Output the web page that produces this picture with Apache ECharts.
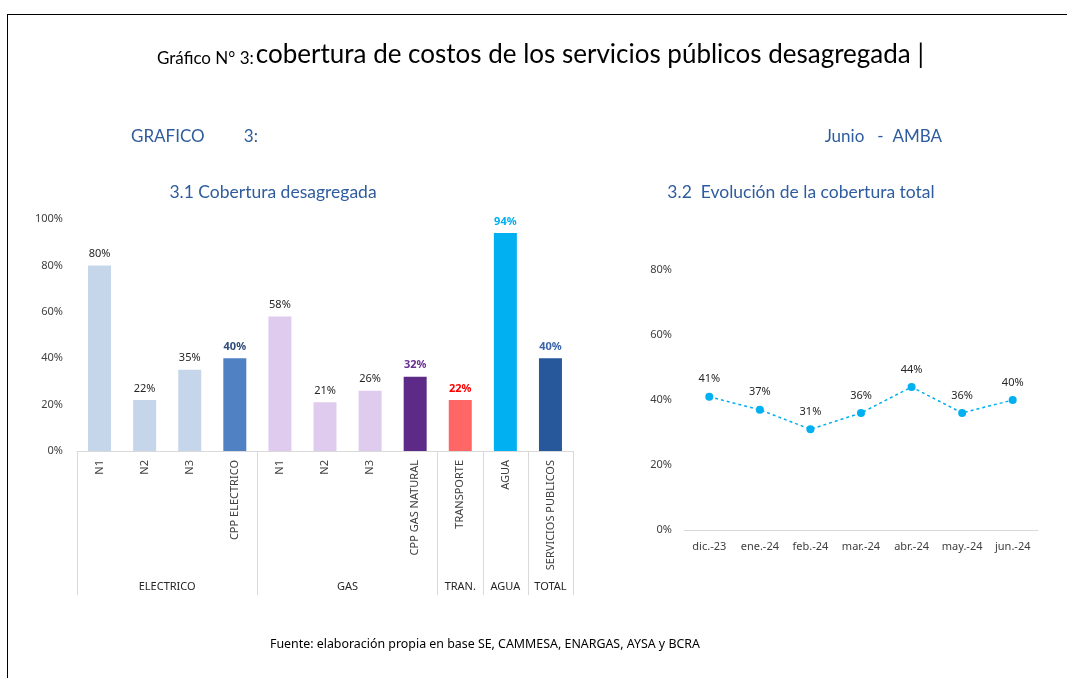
<!DOCTYPE html>
<html>
<head>
<meta charset="utf-8">
<script src="https://cdn.jsdelivr.net/npm/echarts@6/dist/echarts.min.js"></script>
<style>
html,body{margin:0;padding:0;background:#fff;}
#c{width:1067px;height:678px;}
</style>
</head>
<body>
<div id="c"></div>
<script>
// ---- Data ----
const barCategories = ['N1','N2','N3','CPP ELECTRICO','N1','N2','N3','CPP GAS NATURAL','TRANSPORTE','AGUA','SERVICIOS PUBLICOS'];
const barValues = [80, 22, 35, 40, 58, 21, 26, 32, 22, 94, 40];
const groupNames = ['ELECTRICO','GAS','TRAN.','AGUA','TOTAL'];
const groupSizes = [4, 4, 1, 1, 1];
const lineCategories = ['dic.-23','ene.-24','feb.-24','mar.-24','abr.-24','may.-24','jun.-24'];
const lineValues = [41, 37, 31, 36, 44, 36, 40];
const barTicks = [0, 20, 40, 60, 80, 100];
const lineTicks = [0, 20, 40, 60, 80];

// ---- Styles ----
const barColors = ['#C5D6EB','#C5D6EB','#C5D6EB','#4F81C3','#DFCBEE','#DFCBEE','#DFCBEE','#5E2A87','#FF6666','#00B0F0','#27589C'];
const labelStyles = [
  {color:'#262626'},{color:'#262626'},{color:'#262626'},{color:'#2F4B7C',fontWeight:'bold'},
  {color:'#262626'},{color:'#262626'},{color:'#262626'},{color:'#6A2F93',fontWeight:'bold'},
  {color:'#FF0000',fontWeight:'bold'},{color:'#00B0F0',fontWeight:'bold'},{color:'#3A64A8',fontWeight:'bold'}
];
const FONT = 'Noto Sans';
const TFONT = 'Lato';
const BLUE = '#2E5C9E';

// group boundaries / centers derived from group sizes
const groupBounds = [0];
const groupCenters = [];
groupSizes.forEach(s => { const a = groupBounds[groupBounds.length-1]; groupCenters.push(a + s/2); groupBounds.push(a + s); });

const chart = echarts.init(document.getElementById('c'), null, {renderer:'canvas'});

const option = {
  backgroundColor:'#fff',
  animation:false,
  textStyle:{fontFamily:FONT},
  title:[
    {text:'{s|Gráfico N° 3:}{b|cobertura de costos de los servicios públicos desagregada |}', left:157, top:42, padding:0,
     textStyle:{fontWeight:'normal', rich:{s:{fontSize:17,fontWeight:'normal',fontFamily:TFONT,color:'#000',verticalAlign:'bottom',padding:[0,2,1,0]},b:{fontSize:26,fontWeight:'normal',fontFamily:TFONT,color:'#000',verticalAlign:'bottom'}}}},
    {text:'GRAFICO         3:', left:131, top:128, padding:0, textStyle:{fontSize:17,fontWeight:'normal',fontFamily:TFONT,color:BLUE}},
    {text:'Junio   -  AMBA', right:125, top:128, padding:0, textStyle:{fontSize:17,fontWeight:'normal',fontFamily:TFONT,color:BLUE}},
    {text:'3.1 Cobertura desagregada', left:273, textAlign:'center', top:183, padding:0, textStyle:{fontSize:17.5,fontWeight:'normal',fontFamily:TFONT,color:BLUE}},
    {text:'3.2  Evolución de la cobertura total', left:801, textAlign:'center', top:183, padding:0, textStyle:{fontSize:17.5,fontWeight:'normal',fontFamily:TFONT,color:BLUE}},
    {text:'Fuente: elaboración propia en base SE, CAMMESA, ENARGAS, AYSA y BCRA', left:270, top:638, padding:0, textStyle:{fontSize:12.4,fontWeight:'normal',fontFamily:FONT,color:'#000'}}
  ],
  graphic:[
    {type:'line', shape:{x1:7,y1:14.5,x2:1067,y2:14.5}, style:{stroke:'#000',lineWidth:1}},
    {type:'line', shape:{x1:7.5,y1:14,x2:7.5,y2:678}, style:{stroke:'#000',lineWidth:1}}
  ],
  grid:[
    {left:77, top:219, width:496, height:232},
    {left:684, top:270, width:354, height:260}
  ],
  xAxis:[
    {type:'category', gridIndex:0, data:barCategories,
     axisLine:{show:true,lineStyle:{color:'#D9D9D9'}}, axisTick:{show:false},
     axisLabel:{rotate:90, margin:9, fontSize:11, color:'#404040', interval:0}},
    {type:'value', gridIndex:0, position:'bottom', min:0, max:barCategories.length,
     axisLine:{show:false}, splitLine:{show:false},
     axisTick:{show:true, customValues:groupBounds, length:144, lineStyle:{color:'#D9D9D9'}},
     axisLabel:{customValues:groupCenters, margin:130, fontSize:11, color:'#262626',
       formatter:(v)=>{ const i = groupCenters.indexOf(v); return i>=0 ? groupNames[i] : ''; }}},
    {type:'category', gridIndex:1, data:lineCategories,
     axisLine:{show:true,lineStyle:{color:'#D9D9D9'}}, axisTick:{show:false},
     axisLabel:{margin:11, fontSize:11, color:'#404040', interval:0}}
  ],
  yAxis:[
    {type:'value', gridIndex:0, min:barTicks[0], max:barTicks[barTicks.length-1], interval:20,
     axisLine:{show:false}, axisTick:{show:false}, splitLine:{show:false},
     axisLabel:{margin:14, fontSize:11, color:'#404040', formatter:'{value}%'}},
    {type:'value', gridIndex:1, min:lineTicks[0], max:lineTicks[lineTicks.length-1], interval:20,
     axisLine:{show:false}, axisTick:{show:false}, splitLine:{show:false},
     axisLabel:{margin:12, fontSize:11, color:'#404040', formatter:'{value}%'}}
  ],
  series:[
    {type:'bar', xAxisIndex:0, yAxisIndex:0, barWidth:23,
     data: barValues.map((v,i)=>({value:v, itemStyle:{color:barColors[i]},
       label:Object.assign({show:true, position:'top', distance:6, fontSize:11, formatter:'{c}%'}, labelStyles[i])}))},
    {type:'line', xAxisIndex:2, yAxisIndex:1, data:lineValues,
     symbol:'circle', symbolSize:8, itemStyle:{color:'#00B0F0'},
     lineStyle:{color:'#00B0F0', width:1.5, type:[3,3]},
     label:{show:true, position:'top', distance:8, fontSize:11, color:'#262626', formatter:'{c}%'}}
  ]
};
chart.setOption(option);
</script>
</body>
</html>
